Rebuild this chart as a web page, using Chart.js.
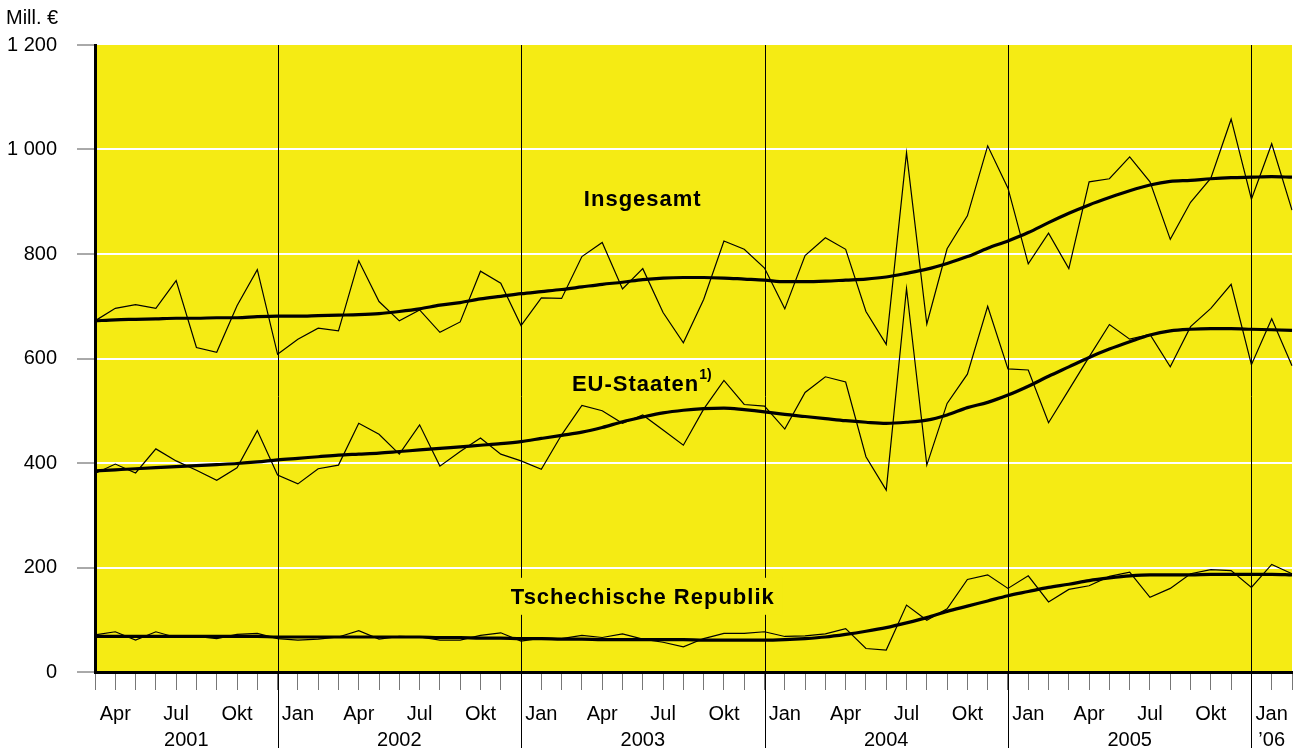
<!DOCTYPE html>
<html>
<head>
<meta charset="utf-8">
<script src="https://cdn.jsdelivr.net/npm/chart.js@4"></script>
<style>
  html, body { margin: 0; padding: 0; background: #fff; }
</style>
</head>
<body>
<canvas id="chart" width="1304" height="748"></canvas>
<script>
// months run from Mar 2001 to Feb 2006
const monthNames = ['Jan', 'Feb', 'Mär', 'Apr', 'Mai', 'Jun', 'Jul', 'Aug', 'Sep', 'Okt', 'Nov', 'Dez'];
const tickMonths = ['Jan', 'Apr', 'Jul', 'Okt'];
const yearLabels = ['2001', '2002', '2003', '2004', '2005', '’06'];
const months = [];
for (let y = 2001; y <= 2006; y++) {
    for (let m = 0; m < 12; m++) {
        if ((y === 2001 && m < 2) || (y === 2006 && m > 1)) continue;
        months.push(monthNames[m] + ' ' + y);
    }
}

// Mill. €
const totalValues = [672, 696, 703, 696, 749, 621, 612, 701, 770, 608,
    637, 658, 653, 787, 709, 672, 693, 650, 670, 767, 744, 663,
    716, 715, 795, 822, 733, 772, 688, 630, 713, 825, 809, 773,
    695, 797, 831, 809, 690, 627, 994, 666, 810, 873, 1007, 926,
    781, 840, 772, 938, 944, 986, 938, 828, 899, 945, 1058, 905,
    1011, 884];
const totalTrend = [672, 674, 675, 676, 677, 677, 678, 678, 680, 681,
    681, 682, 683, 684, 686, 690, 695, 702, 707, 714, 719, 724,
    728, 732, 737, 742, 746, 751, 754, 755, 755, 754, 752, 750,
    747, 747, 748, 750, 752, 756, 763, 771, 782, 795, 811, 825,
    841, 860, 878, 894, 908, 921, 932, 939, 941, 944, 946, 947,
    948, 947];
const euValues = [380, 398, 381, 427, 404, 386, 367, 391, 462, 377,
    360, 389, 396, 476, 455, 417, 473, 394, 422, 448, 417, 404,
    388, 454, 510, 500, 476, 492, 463, 434, 503, 558, 512, 509,
    465, 535, 565, 555, 412, 348, 734, 396, 514, 570, 700, 580,
    578, 477, 540, 603, 665, 637, 646, 584, 661, 696, 742, 588,
    676, 586];
const euTrend = [385, 387, 389, 391, 393, 395, 397, 399, 402, 406,
    409, 412, 415, 417, 419, 422, 425, 428, 431, 434, 437, 441,
    447, 453, 459, 468, 479, 488, 496, 501, 504, 505, 502, 498,
    493, 489, 485, 481, 478, 476, 478, 482, 492, 506, 516, 530,
    547, 566, 584, 602, 618, 632, 645, 653, 656, 657, 657, 656,
    655, 654];
const czValues = [71, 77, 61, 77, 66, 68, 64, 72, 74, 64,
    61, 63, 67, 79, 63, 68, 67, 61, 61, 70, 75, 59,
    65, 64, 70, 66, 73, 63, 57, 48, 64, 74, 74, 77,
    68, 69, 73, 83, 45, 42, 128, 99, 121, 177, 186, 160,
    184, 134, 158, 165, 183, 191, 143, 160, 188, 196, 194, 162,
    206, 188];
const czTrend = [68, 68, 68, 68, 68, 68, 68, 68, 68, 67,
    67, 67, 67, 67, 67, 67, 67, 66, 66, 65, 65, 64,
    64, 63, 63, 62, 62, 62, 62, 62, 61, 61, 61, 61,
    62, 64, 67, 72, 78, 85, 94, 104, 116, 126, 136, 146,
    154, 162, 168, 175, 180, 184, 186, 186, 186, 187, 187, 187,
    187, 186];

const FONT = '"Liberation Sans", Arial, sans-serif';
const YELLOW = '#f5eb14';

const fmt = v => v >= 1000 ? String(v).replace(/\B(?=(\d{3})+$)/, ' ') : String(v);

// yellow plot area on white page
const bgPlugin = {
    id: 'bg',
    beforeDraw(chart) {
        const { ctx, chartArea: a } = chart;
        ctx.save();
        ctx.fillStyle = '#fff';
        ctx.fillRect(0, 0, chart.width, chart.height);
        ctx.fillStyle = YELLOW;
        ctx.fillRect(a.left, a.top, a.right - a.left, a.bottom - a.top);
        ctx.restore();
    }
};

// year separators at each December, year names below the months
const yearPlugin = {
    id: 'years',
    beforeDatasetsDraw(chart) {
        const { ctx, chartArea: a, scales: { x } } = chart;
        const bounds = [a.left];
        months.forEach((m, i) => {
            if (m.startsWith('Dez')) bounds.push(x.getPixelForValue(i));
        });
        bounds.push(a.right);
        ctx.save();
        ctx.strokeStyle = '#000';
        ctx.lineWidth = 1;
        for (let k = 1; k < bounds.length - 1; k++) {
            const px = Math.round(bounds[k]) + 0.5;
            ctx.beginPath();
            ctx.moveTo(px, a.top);
            ctx.lineTo(px, chart.height);
            ctx.stroke();
        }
        ctx.fillStyle = '#000';
        ctx.font = '20px ' + FONT;
        ctx.textAlign = 'center';
        ctx.textBaseline = 'middle';
        yearLabels.forEach((t, k) => {
            ctx.fillText(t, (bounds[k] + bounds[k + 1]) / 2, 740);
        });
        ctx.textAlign = 'left';
        ctx.fillText('Mill. €', 6, 18);
        ctx.restore();
    }
};

// series names inside the plot
const namePlugin = {
    id: 'names',
    afterDatasetsDraw(chart) {
        const { ctx, scales: { x, y } } = chart;
        const cx = x.getPixelForValue(27);
        ctx.save();
        ctx.fillStyle = '#000';
        ctx.textBaseline = 'middle';
        ctx.font = 'bold 22px ' + FONT;
        ctx.letterSpacing = '1px';
        ctx.textAlign = 'center';
        ctx.fillText('Insgesamt', cx, y.getPixelForValue(903));

        // EU-Staaten with footnote mark
        const euText = 'EU-Staaten';
        const w1 = ctx.measureText(euText).width;
        ctx.font = 'bold 14px ' + FONT;
        const w2 = ctx.measureText('1)').width;
        const ex = cx - (w1 + w2) / 2;
        const ey = y.getPixelForValue(549);
        ctx.textAlign = 'left';
        ctx.font = 'bold 22px ' + FONT;
        ctx.fillText(euText, ex, ey);
        ctx.font = 'bold 14px ' + FONT;
        ctx.letterSpacing = '0px';
        ctx.fillText('1)', ex + w1, ey - 10);

        // Tschechische Republik sits on a yellow patch over the year lines
        ctx.font = 'bold 22px ' + FONT;
        ctx.letterSpacing = '1px';
        const cz = 'Tschechische Republik';
        const wc = ctx.measureText(cz).width;
        const cy = y.getPixelForValue(142);
        ctx.fillStyle = YELLOW;
        ctx.fillRect(cx - wc / 2 - 8, cy - 20, wc + 16, 37);
        ctx.fillStyle = '#000';
        ctx.textAlign = 'center';
        ctx.fillText(cz, cx, cy);
        ctx.restore();
    }
};

const thin = (data) => ({
    data, borderColor: '#000', borderWidth: 1.2, pointRadius: 0, tension: 0, fill: false
});
const thick = (data) => ({
    data, borderColor: '#000', borderWidth: 3.2, pointRadius: 0, cubicInterpolationMode: 'monotone', fill: false
});

new Chart(document.getElementById('chart').getContext('2d'), {
    type: 'line',
    data: {
        labels: months,
        datasets: [
            thin(totalValues), thick(totalTrend),
            thin(euValues), thick(euTrend),
            thin(czValues), thick(czTrend)
        ]
    },
    options: {
        responsive: false,
        animation: false,
        layout: { padding: { top: 45, right: 12, left: 0, bottom: 0 } },
        plugins: {
            legend: { display: false },
            tooltip: { enabled: false }
        },
        scales: {
            x: {
                offset: false,
                grid: { drawOnChartArea: false, drawTicks: true, tickLength: 18, tickColor: '#777', lineWidth: 1 },
                border: { display: true, color: '#000', width: 3 },
                ticks: {
                    autoSkip: false, maxRotation: 0, minRotation: 0, padding: 12,
                    color: '#000', font: { family: FONT, size: 20 },
                    callback: (v, i) => {
                        const m = months[i].split(' ')[0];
                        return tickMonths.includes(m) ? m : '';
                    }
                },
                afterFit: s => { s.height = 76; }
            },
            y: {
                min: 0, max: 1200,
                grid: {
                    color: c => (c.tick && (c.tick.value === 0 || c.tick.value === 1200)) ? 'rgba(0,0,0,0)' : '#fff',
                    lineWidth: 2, drawTicks: true, tickLength: 18, tickColor: '#555', tickWidth: 1
                },
                border: { display: true, color: '#000', width: 3 },
                ticks: {
                    stepSize: 200, padding: 20, color: '#000',
                    font: { family: FONT, size: 20 },
                    callback: v => fmt(v)
                },
                afterFit: s => { s.width = 95; }
            }
        }
    },
    plugins: [bgPlugin, yearPlugin, namePlugin]
});
</script>
</body>
</html>
